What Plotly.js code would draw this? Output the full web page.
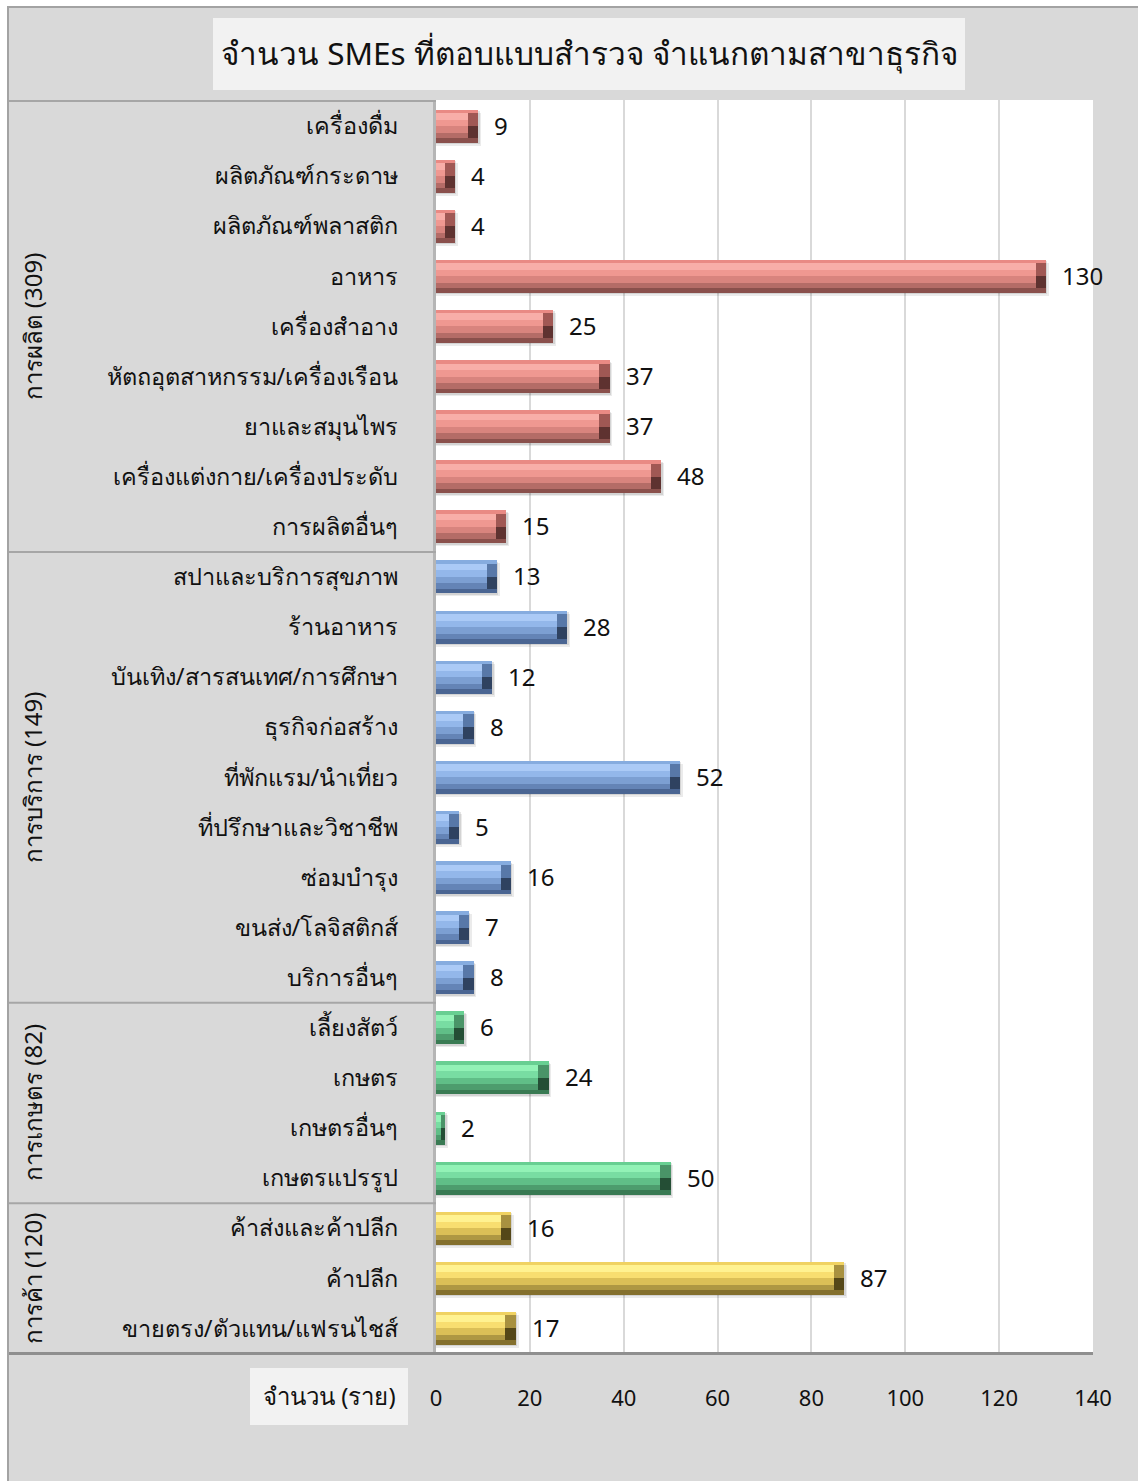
<!DOCTYPE html>
<html>
<head>
<meta charset="utf-8">
<script src="https://cdn.plot.ly/plotly-3.0.1.min.js"></script>
<style>
  html, body { margin: 0; padding: 0; background: #ffffff; }
  #wrap { position: absolute; left: 7px; top: 6px; border-left: 2px solid #a3a3a3; border-top: 2px solid #a3a3a3; }
  #chart { width: 1129px; height: 1473px; }
</style>
</head>
<body>
<div id="wrap"><div id="chart"></div></div>
<script>
// ---------- data ----------
const categories = [
  "เครื่องดื่ม", "ผลิตภัณฑ์กระดาษ", "ผลิตภัณฑ์พลาสติก", "อาหาร", "เครื่องสำอาง",
  "หัตถอุตสาหกรรม/เครื่องเรือน", "ยาและสมุนไพร", "เครื่องแต่งกาย/เครื่องประดับ", "การผลิตอื่นๆ",
  "สปาและบริการสุขภาพ", "ร้านอาหาร", "บันเทิง/สารสนเทศ/การศึกษา", "ธุรกิจก่อสร้าง",
  "ที่พักแรม/นำเที่ยว", "ที่ปรึกษาและวิชาชีพ", "ซ่อมบำรุง", "ขนส่ง/โลจิสติกส์", "บริการอื่นๆ",
  "เลี้ยงสัตว์", "เกษตร", "เกษตรอื่นๆ", "เกษตรแปรรูป",
  "ค้าส่งและค้าปลีก", "ค้าปลีก", "ขายตรง/ตัวแทน/แฟรนไชส์"
];
const values = [9, 4, 4, 130, 25, 37, 37, 48, 15,
                13, 28, 12, 8, 52, 5, 16, 7, 8,
                6, 24, 2, 50,
                16, 87, 17];
const groupNames = ["การผลิต (309)", "การบริการ (149)", "การเกษตร (82)", "การค้า (120)"];
const groupSizes = [9, 9, 4, 3];
const xTicks = [0, 20, 40, 60, 80, 100, 120, 140];
const titleText = "จำนวน SMEs ที่ตอบแบบสำรวจ จำแนกตามสาขาธุรกิจ";
const xTitleText = "จำนวน (ราย)";

// ---------- styles ----------
// stripe colours per group: [topEdge, highlight, upperMid, lowerMid, lower, bottomEdge, endCapTop, endCapBottom]
const palettes = [
  ['#e98a84', '#f8aea8', '#ef9891', '#d8847e', '#b46c67', '#8a504c', '#a05854', '#5e3230'],
  ['#86acdf', '#abcaf6', '#93b7ea', '#7c9fd2', '#6484b6', '#4a6592', '#5878a8', '#2f4260'],
  ['#68cf92', '#92f2b6', '#78dda2', '#60be87', '#4d9c6d', '#397a53', '#4a9468', '#244e35'],
  ['#f0d262', '#fff291', '#f8de70', '#dbbf57', '#ae9743', '#84702e', '#a89140', '#544718']
];
const groupOf = [];
groupSizes.forEach((n, g) => { for (let i = 0; i < n; i++) groupOf.push(g); });
const col = k => groupOf.map(g => palettes[g][k]);

const FONT = '"Noto Sans", "Open Sans", sans-serif';
const BW = 0.66, BTOP = -BW / 2;
const bevel = values.map(v => Math.min(2.2, v / 2));
const inner = values.map((v, i) => v - bevel[i]);

function stripe(x, offset, width, colors) {
  return {
    type: 'bar', orientation: 'h', y: categories, x: x,
    offset: offset, width: width,
    marker: { color: colors, line: { width: 0 } },
    hoverinfo: 'skip', showlegend: false
  };
}

const traces = [
  // soft shadow
  stripe(values.map(v => v + 0.6), BTOP + 0.06, BW, values.map(() => 'rgba(0,0,0,0.08)')),
  stripe(values.map(v => v + 0.3), BTOP + 0.03, BW, values.map(() => 'rgba(0,0,0,0.10)')),
  // end cap (dark right bevel), upper and lower halves
  stripe(values, BTOP, BW / 2, col(6)),
  stripe(values, 0, BW / 2, col(7)),
  // top edge & bottom edge run full length
  stripe(values, BTOP, 0.07, col(0)),
  stripe(values, BTOP + BW - 0.09, 0.09, col(5)),
  // inner stripes stop before the bevel
  stripe(inner, BTOP + 0.07, 0.13, col(1)),
  stripe(inner, BTOP + 0.20, 0.13, col(2)),
  stripe(inner, BTOP + 0.33, 0.13, col(3)),
  stripe(inner, BTOP + 0.46, 0.11, col(4))
];

// ---------- annotations ----------
const annotations = [];
values.forEach((v, i) => annotations.push({
  x: v, y: categories[i], xref: 'x', yref: 'y', text: String(v),
  xanchor: 'left', yanchor: 'middle', xshift: 14, yshift: 1, showarrow: false,
  font: { family: FONT, size: 24, color: '#111' }
}));
let start = 0;
const shapes = [];
const px = p => (p - 436) / 657;      // page x -> paper x
const py = p => (1355 - p) / 1255;    // page y -> paper y
groupSizes.forEach((n, g) => {
  annotations.push({
    x: px(32), xref: 'paper', y: start + (n - 1) / 2, yref: 'y',
    text: groupNames[g], textangle: -90, showarrow: false,
    xanchor: 'center', yanchor: 'middle',
    font: { family: FONT, size: 24, color: '#111' }
  });
  shapes.push({ type: 'line', xref: 'paper', yref: 'y', x0: px(9), x1: 0,
    y0: start - 0.5, y1: start - 0.5, line: { color: '#a6a6a6', width: 2 } });
  start += n;
});
// bottom border line under plot and left panel
shapes.push({ type: 'line', xref: 'paper', yref: 'y', x0: px(9), x1: 1,
  y0: start - 0.5, y1: start - 0.5, line: { color: '#8f8f8f', width: 3 } });
// title box
shapes.push({ type: 'rect', xref: 'paper', yref: 'paper', x0: px(213), x1: px(965),
  y0: py(90), y1: py(18), fillcolor: '#f2f2f2', line: { width: 0 }, layer: 'below' });
annotations.push({ x: px(589), y: py(52), xref: 'paper', yref: 'paper', text: titleText,
  showarrow: false, xanchor: 'center', yanchor: 'middle',
  font: { family: FONT, size: 31.5, color: '#111' } });
// x axis title box
shapes.push({ type: 'rect', xref: 'paper', yref: 'paper', x0: px(250), x1: px(408),
  y0: py(1425), y1: py(1368), fillcolor: '#f2f2f2', line: { width: 0 }, layer: 'below' });
annotations.push({ x: px(329), y: py(1395), xref: 'paper', yref: 'paper', text: xTitleText,
  showarrow: false, xanchor: 'center', yanchor: 'middle',
  font: { family: FONT, size: 24, color: '#111' } });

const layout = {
  width: 1129, height: 1473,
  margin: { l: 427, r: 45, t: 92, b: 126, pad: 0 },
  paper_bgcolor: '#d9d9d9', plot_bgcolor: '#ffffff',
  barmode: 'overlay', bargap: 0,
  showlegend: false,
  xaxis: {
    range: [0, 140], tickvals: xTicks, ticktext: xTicks.map(String),
    showgrid: true, gridcolor: '#d9d9d9', gridwidth: 2, zeroline: false,
    showline: false, ticks: '', ticklabelstandoff: 28,
    tickfont: { family: FONT, size: 22, color: '#111' }, fixedrange: true
  },
  yaxis: {
    type: 'category', categoryorder: 'array', categoryarray: categories,
    autorange: 'reversed', showgrid: false, zeroline: false,
    showline: true, linecolor: '#b5b5b5', linewidth: 3,
    ticks: '', ticklabelstandoff: 30,
    tickfont: { family: FONT, size: 23.5, color: '#111' }, fixedrange: true
  },
  shapes: shapes,
  annotations: annotations
};

Plotly.newPlot('chart', traces, layout, { displayModeBar: false, staticPlot: true });
</script>
</body>
</html>
